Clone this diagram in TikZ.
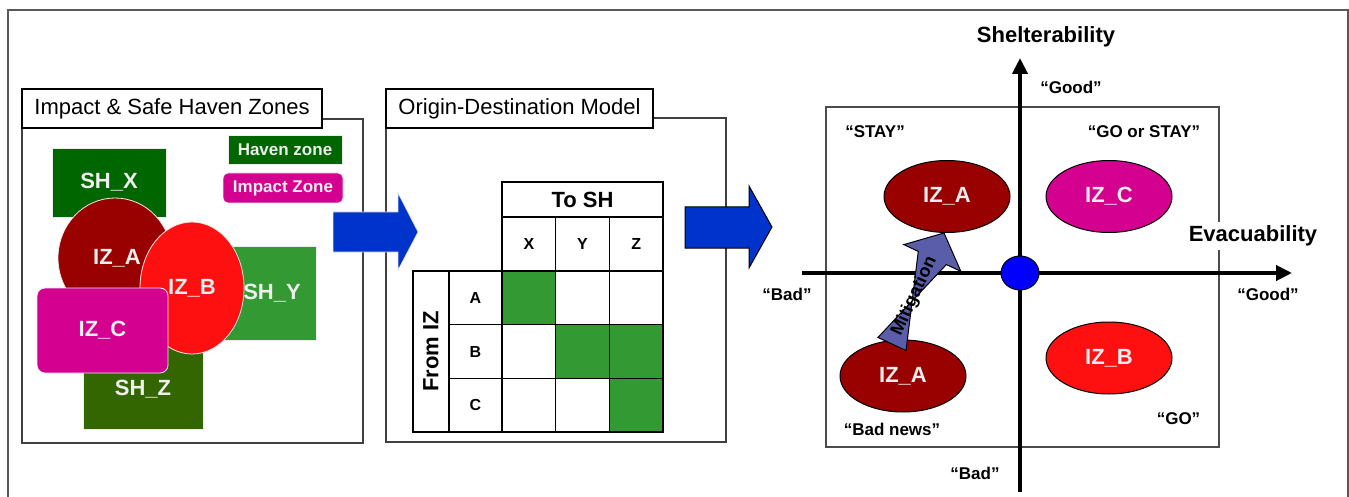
\documentclass[tikz,border=0pt]{standalone}
\usepackage{fontspec}
\setmainfont{Liberation Sans}
\usetikzlibrary{shapes.geometric,calc,arrows.meta}
\definecolor{dred}{HTML}{990000}
\definecolor{bred}{HTML}{FF1010}
\definecolor{mag}{HTML}{D4008F}
\definecolor{dgreen}{HTML}{006600}
\definecolor{mgreen}{HTML}{339933}
\definecolor{ogreen}{HTML}{336600}
\definecolor{arrblue}{HTML}{0033CC}
\definecolor{mitig}{HTML}{5A5EAA}
\definecolor{ltxt}{HTML}{EEEEEE}
\newcommand\fsz[1]{\fontsize{#1}{#1}\selectfont}
\begin{document}
\begin{tikzpicture}[x=1pt,y=-1pt,
  ztext/.style={text=ltxt, font=\bfseries\fsz{22}, inner sep=0},
  zone/.style={ztext, draw=white!85!gray, line width=0.8},
  ellz/.style={zone, ellipse},
  panel/.style={draw=black!75, line width=1.2},
  title/.style={draw=black, fill=white, line width=1.2, font=\fsz{22}, inner sep=0},
  cell/.style={draw, line width=1.5, minimum width=53.67, minimum height=53.67, inner sep=0, font=\bfseries\fsz{16}},
  cellAX/.style={fill=mgreen}, cellBY/.style={fill=mgreen},
  cellBZ/.style={fill=mgreen}, cellCZ/.style={fill=mgreen},
  blockarrow/.style={fill=arrblue},
  axis/.style={line width=4, -{Triangle[length=16pt,width=15pt]}},
  qlbl/.style={font=\bfseries\fsz{17}},
  axlbl/.style={font=\bfseries\fsz{22}},
  iz/.style={ellipse, draw=black, line width=1, minimum width=126, minimum height=72, inner sep=0, text=ltxt, font=\bfseries\fsz{22}}
]
\useasboundingbox (0,0) rectangle (1349,497);
% outer frame
\draw[black!65, line width=1.5] (8,497) -- (8,10) -- (1348,10) -- (1348,497);

% ---------- Panel 1 ----------
\node[panel, rectangle, minimum width=341, minimum height=324, inner sep=0] (p1) at (192.5,281) {};
\node[title, minimum width=300, minimum height=39] (t1) at (172,108.5) {Impact \& Safe Haven Zones};
\node[zone, fill=dgreen, minimum width=114, minimum height=69] (shx) at (109,182.5) {SH\_X};
\node[zone, fill=mgreen, minimum width=96, minimum height=94] (shy) at (268,293) {};
\node[ztext] (shylbl) at (272,293) {SH\_Y};
\node[zone, fill=ogreen, minimum width=120, minimum height=89] (shz) at (143,384.5) {};
\node[ztext] (shzlbl) at (143,389) {SH\_Z};
\node[ellz, fill=dred, minimum width=114, minimum height=120] (iza) at (115,258) {};
\node[ztext] (izalbl) at (117,258) {IZ\_A};
\node[ellz, fill=bred, minimum width=104, minimum height=132] (izb) at (192,288) {IZ\_B};
\node[zone, fill=mag, rounded corners=8, minimum width=131, minimum height=85] (izc) at (102.5,330.5) {IZ\_C};
\node[zone, fill=dgreen, minimum width=114, minimum height=29, font=\bfseries\fsz{17}] (lhaven) at (285,149.5) {Haven zone};
\node[zone, fill=mag, rounded corners=5, minimum width=120, minimum height=30, font=\bfseries\fsz{17}] (limpact) at (283,188) {Impact Zone};

% ---------- Panel 2 ----------
\node[panel, rectangle, minimum width=340, minimum height=324, inner sep=0] (p2) at (556,280) {};
\node[title, minimum width=267, minimum height=39] (t2) at (519.5,108.5) {Origin-Destination Model};
\node[cell, minimum width=161, minimum height=35, font=\bfseries\fsz{22}] (tosh) at (582.5,199.5) {To SH};
\foreach \c [count=\i from 0] in {X,Y,Z}
  \node[cell] (h\c) at ({502+53.67*(\i+0.5)},244) {\c};
\foreach \r [count=\j from 0] in {A,B,C}{
  \node[cell] (r\r) at (475.5,{271+53.67*(\j+0.5)}) {\r};
  \foreach \c [count=\i from 0] in {X,Y,Z}
    \node[cell, cell\r\c/.try] (\r\c) at ({502+53.67*(\i+0.5)},{271+53.67*(\j+0.5)}) {};
}
\node[cell, rotate=90, minimum width=161, minimum height=36, font=\bfseries\fsz{22}] (fromiz) at (431,351.5) {From IZ};

% block arrows
\fill[blockarrow, draw=white!80!gray, line width=0.6] (333,212) -- (398,212) -- (398,193) -- (418,232) -- (398,270) -- (398,252) -- (333,252) -- cycle;
\fill[blockarrow, draw=black, line width=1] (685,207) -- (749,207) -- (749,186) -- (772,227) -- (749,268) -- (749,248) -- (685,248) -- cycle;

% ---------- Panel 3 ----------
\node[draw=black!70, line width=1.3, rectangle, minimum width=393, minimum height=340, inner sep=0] (quad) at (1022.5,277) {};
\node[axlbl, fill=white, inner sep=4] (evac) at (1253,236) {Evacuability};
\node[axlbl] (shelt) at (1046,37) {Shelterability};
\coordinate (xl) at (802,273);
\coordinate (xr) at (1292,273);
\coordinate (yb) at (1020,492);
\coordinate (yt) at (1020,58);
\draw[axis] (xl) -- (xr);
\draw[axis] (yb) -- (yt);
\node[ellipse, draw=black, line width=1, fill=blue, minimum width=38, minimum height=34, inner sep=0] (origin) at (1020,273) {};

\node[iz, fill=dred] (izA1) at (947,196.5) {IZ\_A};
\node[iz, fill=mag] (izC1) at (1109,196.5) {IZ\_C};
\node[iz, fill=dred] (izA2) at (903,376) {IZ\_A};
\node[iz, fill=bred] (izB1) at (1109,358) {IZ\_B};

% mitigation arrow
\coordinate (mt) at ($(izA1.south)+(-3,0)$);
\coordinate (mb) at ($(izA2.north)+(-11,4.5)$);
\coordinate (mh) at ($(mb)!95pt!(mt)$);
\filldraw[fill=mitig, draw=black, line width=1]
  ($(mb)!15.5pt!90:(mt)$) -- ($(mh)!15.5pt!-90:(mt)$) -- ($(mh)!31.5pt!-90:(mt)$) -- (mt)
  -- ($(mh)!31.5pt!90:(mt)$) -- ($(mh)!15.5pt!90:(mt)$) -- ($(mb)!15.5pt!-90:(mt)$) -- cycle;
\node[font=\bfseries\fsz{18}, rotate=65.2, inner sep=0] (mitlbl) at ($(mb)!0.43!(mt)$) {Mitigation};

\node[qlbl] (good1) at (1071,87) {“Good”};
\node[qlbl] (stay) at (875,132) {“STAY”};
\node[qlbl] (gostay) at (1144,132) {“GO or STAY”};
\node[qlbl] (bad1) at (787,294) {“Bad”};
\node[qlbl] (good2) at (1268,294) {“Good”};
\node[qlbl] (go) at (1178.5,419) {“GO”};
\node[qlbl] (badnews) at (892,429) {“Bad news”};
\node[qlbl] (bad2) at (975,473) {“Bad”};
\end{tikzpicture}
\end{document}
